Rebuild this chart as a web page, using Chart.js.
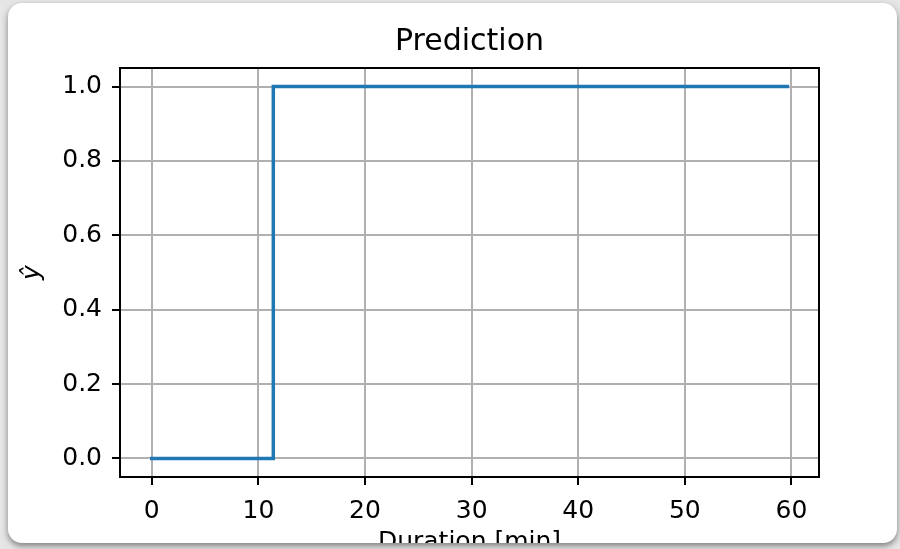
<!DOCTYPE html>
<html>
<head>
<meta charset="utf-8">
<title>Prediction</title>
<script src="https://cdn.jsdelivr.net/npm/chart.js@4.4.1/dist/chart.umd.min.js"></script>
<style>
  html, body { margin: 0; padding: 0; }
  body { width: 900px; height: 549px; overflow: hidden; background: #e6e6e6; position: relative; }
  .card {
    position: absolute; left: 8px; top: 3px; width: 889px; height: 540px;
    background: #fff; border-radius: 14px; overflow: hidden;
    box-shadow: 0 3px 6px rgba(0, 0, 0, 0.45);
  }
  .plot { position: absolute; left: 0; top: 0; width: 889px; height: 600px; }
</style>
</head>
<body>
<div class="card">
  <div class="plot"><canvas id="predChart" width="889" height="600"></canvas></div>
</div>
<script>
// step output of the classifier over the session length
const durations = [0, 11.4, 59.6];
const predictions = [0, 1, 1];
const xTicks = [0, 10, 20, 30, 40, 50, 60];
const yTicks = [0, 0.2, 0.4, 0.6, 0.8, 1.0];
const xLimits = [-2.98, 62.58];
const yLimits = [-0.05, 1.05];

const FONT = "'DejaVu Sans', sans-serif";

// matplotlib-like frame around the plot area
const framePlugin = {
  id: "frame",
  afterDatasetsDraw(chart) {
    const { ctx, chartArea: a } = chart;
    ctx.save();
    ctx.strokeStyle = "#000";
    ctx.lineWidth = 2;
    ctx.strokeRect(a.left, a.top, a.right - a.left, a.bottom - a.top);
    ctx.restore();
  },
};

const gridStyle = {
  color: "#b0b0b0",
  lineWidth: 2,
  tickColor: "#000",
  tickWidth: 2,
  tickLength: 8,
};

new Chart(document.getElementById("predChart"), {
  type: "line",
  data: {
    datasets: [
      {
        data: durations.map((d, i) => ({ x: d, y: predictions[i] })),
        borderColor: "#1f77b4",
        borderWidth: 3.5,
        borderCapStyle: "square",
        stepped: true,
        pointRadius: 0,
        fill: false,
      },
    ],
  },
  options: {
    responsive: false,
    devicePixelRatio: 1,
    animation: false,
    layout: { padding: { left: 0, right: 78, top: 0, bottom: 0 } },
    plugins: {
      legend: { display: false },
      tooltip: { enabled: false },
      title: {
        display: true,
        fullSize: false,
        text: "Prediction",
        color: "#000",
        font: { family: FONT, size: 30, weight: "normal", lineHeight: 1.2 },
        padding: { top: 21, bottom: 8 },
      },
    },
    scales: {
      x: {
        type: "linear",
        min: xLimits[0],
        max: xLimits[1],
        afterBuildTicks: (s) => { s.ticks = xTicks.map((v) => ({ value: v })); },
        afterFit: (s) => { s.height = 126; },
        grid: gridStyle,
        border: { display: false },
        ticks: {
          color: "#000",
          padding: 11.5,
          maxRotation: 0,
          font: { family: FONT, size: 25 },
          callback: (v) => String(v),
        },
        title: {
          display: true,
          text: "Duration [min]",
          color: "#000",
          font: { family: FONT, size: 25, lineHeight: 1.2 },
          padding: { top: 0, bottom: 46 },
        },
      },
      y: {
        type: "linear",
        min: yLimits[0],
        max: yLimits[1],
        afterBuildTicks: (s) => { s.ticks = yTicks.map((v) => ({ value: v })); },
        afterFit: (s) => { s.width = 112; },
        grid: gridStyle,
        border: { display: false },
        ticks: {
          color: "#000",
          padding: 10,
          font: { family: FONT, size: 25 },
          callback: (v) => v.toFixed(1),
        },
        title: {
          display: true,
          text: "ŷ",
          color: "#000",
          font: { family: FONT, size: 25, style: "italic", lineHeight: 1.2 },
          padding: { top: 9, bottom: 0 },
        },
      },
    },
  },
  plugins: [framePlugin],
});
</script>
</body>
</html>
